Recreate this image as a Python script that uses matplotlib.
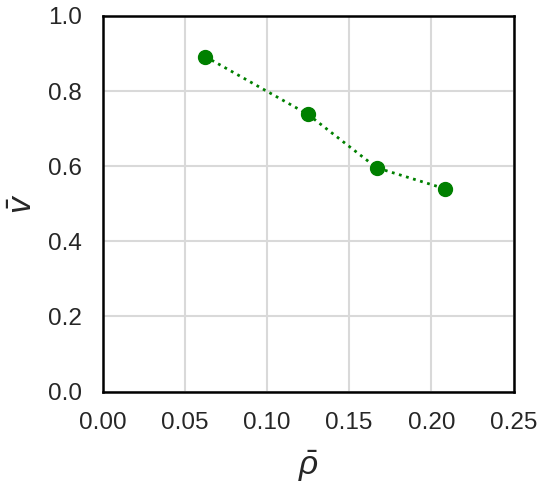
import matplotlib
matplotlib.use("Agg")
import matplotlib.pyplot as plt
import seaborn as sns

sns.set_theme(style="whitegrid")
plt.rcParams['font.family'] = ['Liberation Sans', 'DejaVu Sans']
plt.rcParams['mathtext.fontset'] = 'custom'
plt.rcParams['mathtext.it'] = 'Liberation Sans:italic'
plt.rcParams['mathtext.rm'] = 'Liberation Sans'

# density vs mean speed
rho = [0.0625, 0.125, 0.1667, 0.2083]
v = [0.892, 0.738, 0.596, 0.540]

fig = plt.figure(figsize=(5.46, 4.87), dpi=100)
ax = fig.add_axes([102.5 / 546, 95.5 / 487, 411 / 546, 375.5 / 487])

ax.plot(rho, v, ':', color='green', lw=2, marker='o', markersize=10)

ax.set_xlim(0, 0.25)
ax.set_ylim(0, 1.0)
ax.set_xticks([0, 0.05, 0.10, 0.15, 0.20, 0.25])
ax.set_yticks([0, 0.2, 0.4, 0.6, 0.8, 1.0])
ax.xaxis.set_major_formatter(matplotlib.ticker.FormatStrFormatter('%.2f'))
ax.yaxis.set_major_formatter(matplotlib.ticker.FormatStrFormatter('%.1f'))
ax.tick_params(labelsize=17.5, colors='#262626', pad=9)
ax.set_xlabel(r'$\bar{\rho}$', fontsize=24, color='#262626', labelpad=10)
ax.set_ylabel(r'$\bar{v}$', fontsize=24, color='#262626', labelpad=6)
ax.grid(True, color='#d9d9d9', lw=1.5)
for s in ax.spines.values():
    s.set_color('black')
    s.set_linewidth(1.8)

fig.savefig('out.png', dpi=100)
